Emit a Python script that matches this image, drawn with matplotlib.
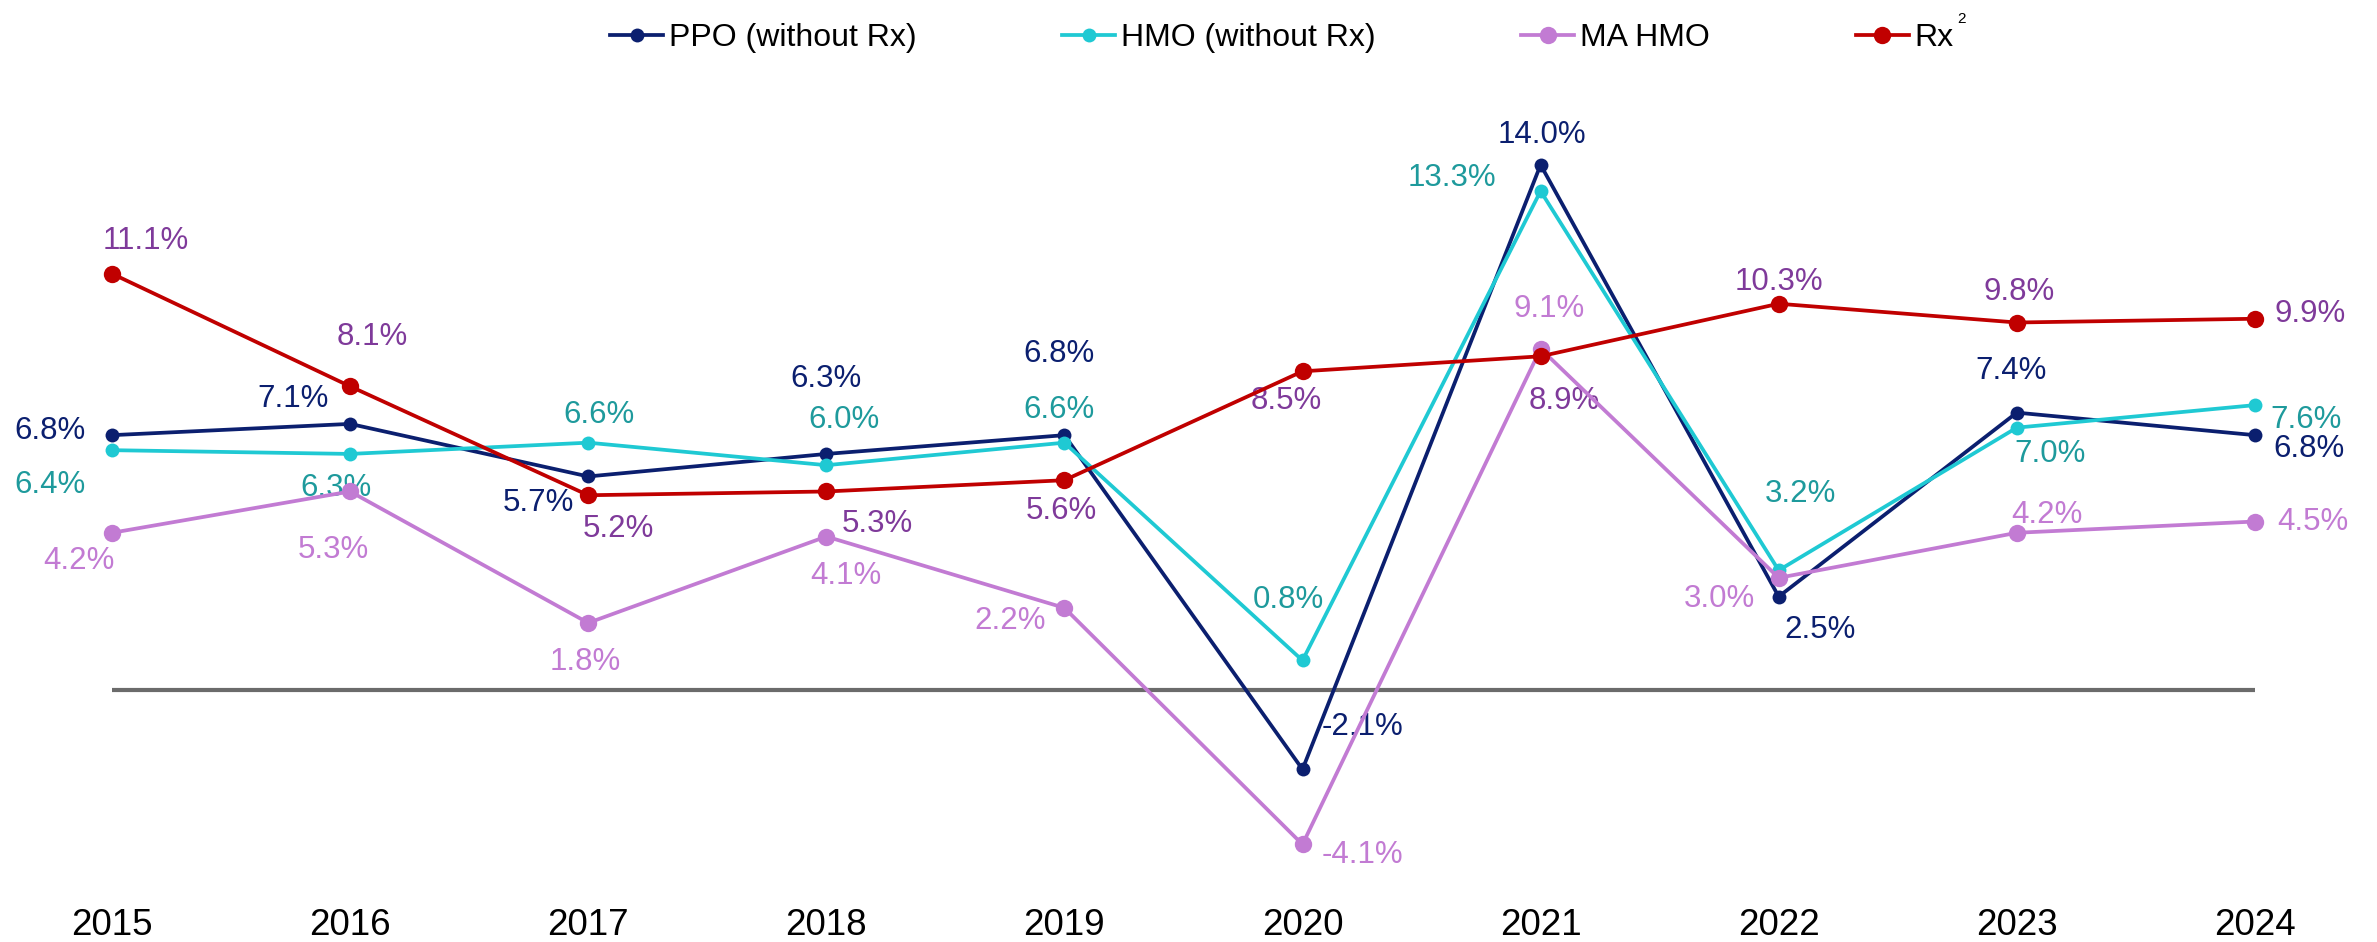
import matplotlib
matplotlib.use("Agg")
import matplotlib.pyplot as plt
from matplotlib.transforms import IdentityTransform

plt.rcParams['font.family'] = ['Liberation Sans', 'DejaVu Sans']

# ---------------- data ----------------
years = ['2015', '2016', '2017', '2018', '2019', '2020', '2021', '2022', '2023', '2024']
ppo = [6.8, 7.1, 5.7, 6.3, 6.8, -2.1, 14.0, 2.5, 7.4, 6.8]
hmo = [6.4, 6.3, 6.6, 6.0, 6.6, 0.8, 13.3, 3.2, 7.0, 7.6]
ma_hmo = [4.2, 5.3, 1.8, 4.1, 2.2, -4.1, 9.1, 3.0, 4.2, 4.5]
rx = [11.1, 8.1, 5.2, 5.3, 5.6, 8.5, 8.9, 10.3, 9.8, 9.9]
series_names = ['PPO (without Rx)', 'HMO (without Rx)', 'MA HMO', 'Rx']

# ---------------- styles / label placement (points) ----------------
ppo_off = [(-45, 5), (-41, 20), (-36, -17), (0, 56), (-4, 61), (43, 33), (1, 24), (30, -22), (-4, 32), (39, -7.5)]
hmo_off = [(-45, -23), (-10, -22), (8, 22), (13, 35), (-4, 26), (-10, 46), (-64, 12), (16, 57), (24, -17), (37, -8.5)]
ma_off = [(-24, -18), (-12, -40), (-2, -26), (14, -26), (-39, -7), (43, -5), (6, 31), (-43, -13), (22, 15), (42, 2)]
rx_off = [(24, 26), (16, 38), (22, -22), (37, -21), (-2, -20), (-12, -19), (17, -30), (0, 18), (2, 24), (40, 6)]

styles = [
    dict(vals=ppo, off=ppo_off, color='#0B1F6F', lab='#0B1F6F', ms=10.0, lw=2.7),
    dict(vals=hmo, off=hmo_off, color='#1FC9D3', lab='#1E9A9C', ms=10.0, lw=2.7),
    dict(vals=ma_hmo, off=ma_off, color='#C27BD3', lab='#C27BD3', ms=12.5, lw=2.7),
    dict(vals=rx, off=rx_off, color='#C00000', lab='#7F3A9A', ms=12.5, lw=2.7),
]

W, H = 2377, 942
fig = plt.figure(figsize=(W / 100, H / 100), dpi=100)
ax = fig.add_axes([0, 62 / H, 1, 880 / H])
ax.set_xlim(-0.4704, 9.5128)
ax.set_ylim(-5.047, 18.389)
for s in ax.spines.values():
    s.set_visible(False)
ax.set_yticks([])
x = list(range(len(years)))
ax.set_xticks(x)
ax.set_xticklabels(years, fontsize=26.5, color='black')
ax.tick_params(axis='x', length=0, pad=20.2)

# zero baseline
ax.plot([x[0], x[-1]], [0, 0], color='#6B6B6B', lw=3.0, solid_capstyle='butt', zorder=1.5)

handles = []
label_fs = 22.5
cap_pt = 0.716 * label_fs
for i, (name, st) in enumerate(zip(series_names, styles)):
    h, = ax.plot(x, st['vals'], color=st['color'], lw=st['lw'], marker='o',
                 markersize=st['ms'], markeredgewidth=0, zorder=3 + i, label=name)
    handles.append(h)
    for xi, v, (dx, dy) in zip(x, st['vals'], st['off']):
        ax.annotate(f'{v:.1f}%', (xi, v), xytext=(dx, dy - cap_pt / 2),
                    textcoords='offset points', ha='center', va='baseline',
                    fontsize=label_fs, color=st['lab'], zorder=1)

leg = fig.legend(handles=handles, labels=series_names, loc='center',
                 bbox_to_anchor=(1282 / W, 1 - 38 / H), ncol=4, frameon=False,
                 fontsize=23, handlelength=1.66, handletextpad=0.19,
                 columnspacing=4.55, borderpad=0, borderaxespad=0)

fig.canvas.draw()
bb = leg.get_texts()[3].get_window_extent()
fig.text(bb.x1 + 3, (bb.y0 + bb.y1) / 2 + 19, '2', transform=IdentityTransform(),
         fontsize=11, ha='left', va='center', color='black')

fig.savefig('out.png', dpi=100)
